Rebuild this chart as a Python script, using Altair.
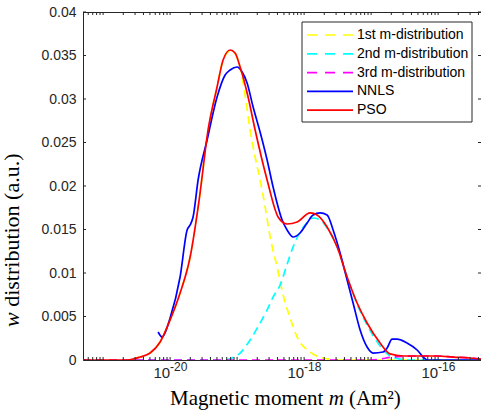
import altair as alt
import pandas as pd

# ---- curve data: log10 of magnetic moment (Am^2) and w distribution ----
yellow_logm = [-21.30, -20.642, -20.448, -20.299, -20.149, -20.0, -19.851, -19.701, -19.567,
               -19.433, -19.299, -19.209, -19.104, -19.030, -18.955, -18.881, -18.806, -18.731,
               -18.657, -18.582, -18.507, -18.403, -18.313, -18.209, -18.104, -17.910, -17.716,
               -17.463, -15.36]
yellow_w = [0, 0, 0.00034, 0.0008, 0.00207, 0.0046, 0.0077, 0.01184, 0.01839,
            0.02644, 0.03138, 0.03448, 0.0355, 0.03520, 0.0336, 0.03046, 0.02644, 0.02333,
            0.02069, 0.01759, 0.01414, 0.01069, 0.00747, 0.00483, 0.00264, 0.00092, 0.00023,
            0, 0]

cyan_logm = [-21.30, -19.179, -19.075, -18.955, -18.806, -18.657, -18.552, -18.463, -18.358,
             -18.254, -18.164, -18.060, -17.955, -17.866, -17.761, -17.612, -17.507, -17.358,
             -17.209, -17.060, -16.866, -16.716, -16.567, -16.418, -15.36]
cyan_w = [0, 0, 0.00023, 0.0008, 0.0023, 0.00425, 0.00575, 0.00724, 0.00862,
          0.01100, 0.01300, 0.01470, 0.01580, 0.01632, 0.01609, 0.0146, 0.01299, 0.00954,
          0.00644, 0.00402, 0.00161, 0.00046, 0.00011, 0, 0]

magenta_logm = [-21.30, -17.0, -16.866, -16.716, -16.522, -16.269, -16.015, -15.776, -15.522, -15.36]
magenta_w = [0, 0, 0.0001, 0.0003, 0.00042, 0.00046, 0.00046, 0.00034, 0.00023, 0.00011]

nnls_logm = [-20.179, -20.119, -20.0, -19.851, -19.746, -19.701, -19.657, -19.582, -19.448,
             -19.299, -19.179, -19.104, -19.0, -18.925, -18.851, -18.761, -18.657, -18.552,
             -18.463, -18.328, -18.254, -18.164, -18.060, -17.955, -17.866, -17.761, -17.657,
             -17.567, -17.463, -17.358, -17.269, -17.164, -17.060, -16.970, -16.821, -16.761,
             -16.687, -16.612, -16.463, -16.313, -16.224, -16.164, -15.36]
nnls_w = [0.00322, 0.00264, 0.00483, 0.00954, 0.01494, 0.01552, 0.01644, 0.02069, 0.02529,
          0.03023, 0.03276, 0.03333, 0.03368, 0.0331, 0.03184, 0.02908, 0.02621, 0.02299,
          0.01989, 0.01609, 0.01494, 0.01414, 0.0146, 0.01575, 0.01667, 0.0169, 0.01667,
          0.01494, 0.0123, 0.0092, 0.00655, 0.00345, 0.00149, 0.0008, 0.00092, 0.00138,
          0.00241, 0.00241, 0.00195, 0.00115, 0.00034, 0, 0]

pso_logm = [-21.30, -20.896, -20.642, -20.448, -20.299, -20.149, -20.0, -19.851, -19.701,
            -19.567, -19.433, -19.299, -19.209, -19.104, -19.030, -18.955, -18.836, -18.731,
            -18.552, -18.388, -18.254, -18.104, -17.910, -17.806, -17.657, -17.507, -17.358,
            -17.209, -17.060, -16.866, -16.716, -16.522, -16.269, -16.015, -15.776, -15.522,
            -15.36]
pso_w = [0, 0, 0, 0.00034, 0.0008, 0.00207, 0.0046, 0.0077, 0.01184,
         0.01839, 0.02644, 0.03138, 0.03448, 0.03563, 0.03529, 0.03368, 0.03023, 0.02644,
         0.02069, 0.01644, 0.01563, 0.01586, 0.0169, 0.01667, 0.01529, 0.01299, 0.00954,
         0.00655, 0.00425, 0.00195, 0.0007, 0.00046, 0.00046, 0.00046, 0.00034, 0.00023,
         0.00011]

series_names = ["1st m-distribution", "2nd m-distribution", "3rd m-distribution", "NNLS", "PSO"]
series_colors = ["#FFFF00", "#00FFFF", "#FF00FF", "#0000FF", "#FF0000"]
series_dashed = [True, True, True, False, False]
series_data = [(yellow_logm, yellow_w), (cyan_logm, cyan_w), (magenta_logm, magenta_w),
               (nnls_logm, nnls_w), (pso_logm, pso_w)]

# ---- axes ----
y_ticks = [0, 0.005, 0.01, 0.015, 0.02, 0.025, 0.03, 0.035, 0.04]
x_label_exps = [-20, -18, -16]
x_domain_exp = [-21.30, -15.36]

W, H = 398, 348
AXIS_COLOR = "#262626"
SANS = "Liberation Sans"
SERIF = "Liberation Serif"
LINE_W = 1.7

x_scale = alt.Scale(type="log", domain=[10 ** x_domain_exp[0], 10 ** x_domain_exp[1]], nice=False)
y_scale = alt.Scale(domain=[0, 0.04], nice=False, zero=False)
x_axis = alt.Axis(labels=False, ticks=False, grid=False, title=None,
                  domainColor=AXIS_COLOR, domainWidth=1, values=[1e-20])
y_axis = alt.Axis(values=y_ticks, ticks=False, grid=False, title=None,
                  format=".3~f", labelFont=SANS, labelFontSize=14,
                  labelColor=AXIS_COLOR, labelPadding=7,
                  domainColor=AXIS_COLOR, domainWidth=1)

x_minor = [k * 10.0 ** n for n in range(-22, -14) for k in range(1, 10)
           if 10 ** x_domain_exp[0] <= k * 10.0 ** n <= 10 ** x_domain_exp[1]]

layers = []

# curves
for name, color, dashed, (lx, wy) in zip(series_names, series_colors, series_dashed, series_data):
    df = pd.DataFrame({"m": [10.0 ** v for v in lx], "w": wy})
    mk = dict(color=color, strokeWidth=LINE_W, interpolate="monotone", clip=True)
    if dashed:
        mk["strokeDash"] = [8, 5]
    layers.append(
        alt.Chart(df).mark_line(**mk).encode(
            x=alt.X("m:Q", scale=x_scale, axis=x_axis),
            y=alt.Y("w:Q", scale=y_scale, axis=y_axis),
            order=alt.Order("m:Q"),
        )
    )

# top edge of the box
layers.append(
    alt.Chart(pd.DataFrame({"a": [0]})).mark_rule(color=AXIS_COLOR, strokeWidth=1)
    .encode(x=alt.value(0), x2=alt.value(W), y=alt.value(0.5))
)

# inward tick marks on all four sides
xt = pd.DataFrame({"v": x_minor})
yt = pd.DataFrame({"v": y_ticks})
for y0, y1 in [(H, H - 3), (0, 3)]:
    layers.append(alt.Chart(xt).mark_rule(color=AXIS_COLOR, strokeWidth=1).encode(
        x=alt.X("v:Q", scale=x_scale, axis=x_axis), y=alt.value(y0), y2=alt.value(y1)))
for x0, x1 in [(0, 3), (W, W - 3)]:
    layers.append(alt.Chart(yt).mark_rule(color=AXIS_COLOR, strokeWidth=1).encode(
        y=alt.Y("v:Q", scale=y_scale, axis=y_axis), x=alt.value(x0), x2=alt.value(x1)))

# x tick labels as 10 with raised exponent
xl = pd.DataFrame({"v": [10.0 ** e for e in x_label_exps],
                   "base": ["10"] * len(x_label_exps),
                   "exp": ["-" + str(-e) for e in x_label_exps]})
layers.append(alt.Chart(xl).mark_text(font=SANS, fontSize=15, color=AXIS_COLOR, align="right",
                                      baseline="alphabetic").encode(
    x=alt.X("v:Q", scale=x_scale, axis=x_axis), y=alt.value(H + 18), text="base:N"))
layers.append(alt.Chart(xl).mark_text(font=SANS, fontSize=12, color=AXIS_COLOR, align="left",
                                      baseline="alphabetic").encode(
    x=alt.X("v:Q", scale=x_scale, axis=x_axis), y=alt.value(H + 11), text="exp:N"))

# axis titles (serif, italic symbols)
def txt(s, x, y, size=20, style="normal", angle=0):
    return alt.Chart(pd.DataFrame({"t": [s]})).mark_text(
        font=SERIF, fontSize=size, fontStyle=style, color="#000000", align="left",
        baseline="alphabetic", angle=angle).encode(text="t:N", x=alt.value(x), y=alt.value(y))

FS = 21
x0 = 87
layers.append(txt("Magnetic moment", x0, H + 45, FS))
layers.append(txt("m", x0 + 7.555 * FS, H + 45, FS, "italic"))
layers.append(txt("(Am²)", x0 + (7.555 + 0.722 + 0.25) * FS, H + 45, FS))

FSY = 22
yb = 315
layers.append(txt("w", -64, yb, FSY, "italic", 270))
layers.append(txt("distribution (a.u.)", -64, yb - (0.667 + 0.25) * FSY, FSY, "normal", 270))

# legend box
layers.append(alt.Chart(pd.DataFrame({"a": [0]})).mark_rect(
    fill="white", stroke=AXIS_COLOR, strokeWidth=1).encode(
    x=alt.value(219), x2=alt.value(389), y=alt.value(10), y2=alt.value(110)))
for i, (name, color, dashed) in enumerate(zip(series_names, series_colors, series_dashed)):
    ly = 23 + 18.8 * i
    mk = dict(color=color, strokeWidth=LINE_W)
    if dashed:
        mk["strokeDash"] = [10, 8]
    layers.append(alt.Chart(pd.DataFrame({"a": [0]})).mark_rule(**mk).encode(
        x=alt.value(224), x2=alt.value(270), y=alt.value(ly)))
    layers.append(alt.Chart(pd.DataFrame({"t": [name]})).mark_text(
        font=SANS, fontSize=14, color="#000000", align="left", baseline="middle").encode(
        x=alt.value(274), y=alt.value(ly), text="t:N"))

chart = alt.layer(*layers).properties(
    width=W, height=H,
    padding={"left": 83, "top": 12, "right": 0, "bottom": 52},
    autosize=alt.AutoSizeParams(type="none"),
).configure_view(stroke=None).configure(background="white")

chart.save("out.html", embed_options={"renderer": "svg", "actions": False})
